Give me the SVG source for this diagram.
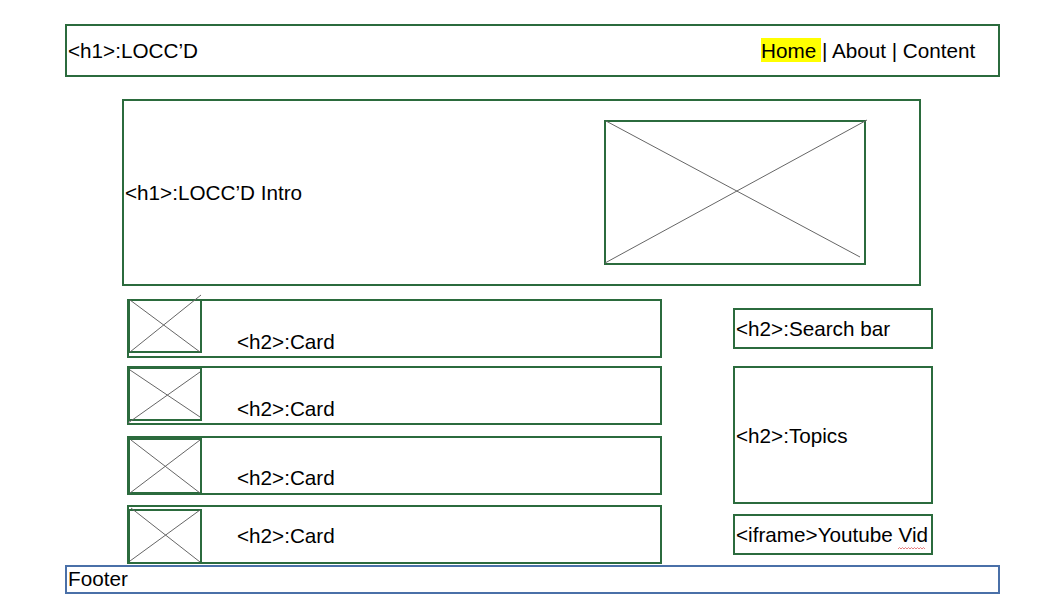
<svg xmlns="http://www.w3.org/2000/svg" width="1042" height="598" viewBox="0 0 1042 598">
<style>
.box{fill:#fff;stroke:#2b6b3d;stroke-width:2}
.img{fill:none;stroke:#2b6b3d;stroke-width:2}
.x{stroke:#666;stroke-width:1;fill:none}
.t{font-family:"Liberation Sans",Arial,sans-serif;font-size:20.7px;fill:#000}
</style>
<rect width="1042" height="598" fill="#fff"/>
<g id="header">
<rect class="box" x="66" y="25" width="933" height="51"/>
<text class="t" x="68" y="58">&lt;h1&gt;:LOCC’D</text>
<rect x="761" y="38" width="60" height="24" fill="#ffff00"/>
<text class="t" x="761" y="58">Home | About | Content</text>
</g>
<g id="intro">
<rect class="box" x="123" y="100" width="797" height="185"/>
<text class="t" x="125" y="200">&lt;h1&gt;:LOCC’D Intro</text>
<rect class="img" x="605" y="121" width="260" height="143"/>
<line class="x" x1="606" y1="121" x2="860" y2="257"/>
<line class="x" x1="605" y1="263" x2="867" y2="120"/>
</g>
<g id="card1">
<rect class="box" x="128" y="300" width="533" height="57"/>
<rect class="img" x="129" y="300" width="72" height="52"/>
<line class="x" x1="130" y1="300" x2="200" y2="352"/>
<line class="x" x1="130" y1="352" x2="201" y2="295"/>
<text class="t" x="237" y="349">&lt;h2&gt;:Card</text>
</g>
<g id="card2">
<rect class="box" x="128" y="367" width="533" height="57"/>
<rect class="img" x="129" y="368" width="72" height="52"/>
<line class="x" x1="130" y1="370" x2="200" y2="417"/>
<line class="x" x1="128" y1="423" x2="200" y2="372"/>
<text class="t" x="237" y="416">&lt;h2&gt;:Card</text>
</g>
<g id="card3">
<rect class="box" x="128" y="437" width="533" height="57"/>
<rect class="img" x="129" y="439" width="72" height="54"/>
<line class="x" x1="131" y1="440" x2="200" y2="493"/>
<line class="x" x1="130" y1="493" x2="200" y2="440"/>
<text class="t" x="237" y="485">&lt;h2&gt;:Card</text>
</g>
<g id="card4">
<rect class="box" x="128" y="506" width="533" height="57"/>
<rect class="img" x="129" y="510" width="72" height="53"/>
<line class="x" x1="131" y1="508" x2="200" y2="562"/>
<line class="x" x1="130" y1="561" x2="200" y2="510"/>
<text class="t" x="237" y="543">&lt;h2&gt;:Card</text>
</g>
<g id="search">
<rect class="box" x="734" y="309" width="198" height="39"/>
<text class="t" x="736" y="336">&lt;h2&gt;:Search bar</text>
</g>
<g id="topics">
<rect class="box" x="734" y="367" width="198" height="136"/>
<text class="t" x="736" y="443">&lt;h2&gt;:Topics</text>
</g>
<g id="youtube">
<rect class="box" x="734" y="515" width="198" height="39"/>
<text class="t" x="736" y="542">&lt;iframe&gt;Youtube Vid</text>
<path d="M898 549 l1.5 -1.5 l1.5 1.5 l1.5 -1.5 l1.5 1.5 l1.5 -1.5 l1.5 1.5 l1.5 -1.5 l1.5 1.5 l1.5 -1.5 l1.5 1.5 l1.5 -1.5 l1.5 1.5 l1.5 -1.5 l1.5 1.5 l1.5 -1.5 l1.5 1.5 l1.5 -1.5 l1.5 1.5" fill="none" stroke="#e06060" stroke-width="0.8"/>
</g>
<g id="footer">
<rect x="66" y="566" width="933" height="27" fill="#fff" stroke="#4a70a8" stroke-width="2"/>
<text class="t" x="68" y="586">Footer</text>
</g>
<g id="connectors"></g>
</svg>
